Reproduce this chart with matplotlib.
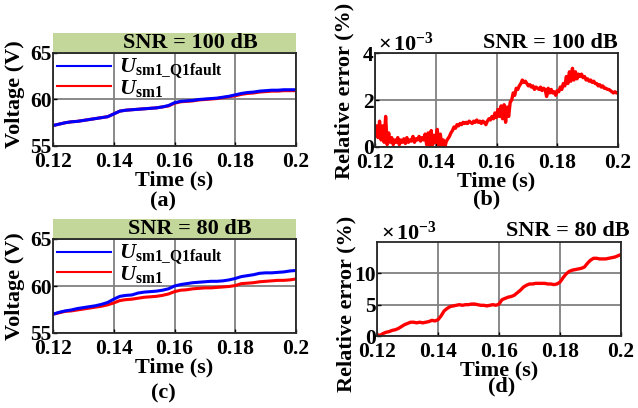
import numpy as np
import matplotlib
matplotlib.use("Agg")
import matplotlib.pyplot as plt
from matplotlib.patches import Rectangle

plt.rcParams['font.family'] = 'Liberation Serif'
plt.rcParams['font.weight'] = 'bold'
plt.rcParams['mathtext.fontset'] = 'custom'
plt.rcParams['mathtext.rm'] = 'Liberation Serif:bold'
plt.rcParams['mathtext.it'] = 'Liberation Serif:italic:bold'
plt.rcParams['mathtext.bf'] = 'Liberation Serif:bold'

# time grid for voltage curves (step 0.002 s)
t_volt = [0.120, 0.122, 0.124, 0.126, 0.128, 0.130, 0.132, 0.134, 0.136, 0.138,
          0.140, 0.142, 0.144, 0.146, 0.148, 0.150, 0.152, 0.154, 0.156, 0.158,
          0.160, 0.162, 0.164, 0.166, 0.168, 0.170, 0.172, 0.174, 0.176, 0.178,
          0.180, 0.182, 0.184, 0.186, 0.188, 0.190, 0.192, 0.194, 0.196, 0.198, 0.200]

# SNR = 100 dB
u_fault_100 = [57.2, 57.35, 57.5, 57.6, 57.65, 57.75, 57.85, 57.95, 58.05, 58.15,
               58.45, 58.75, 58.85, 58.9, 58.95, 59.0, 59.05, 59.1, 59.2, 59.35,
               59.65, 59.8, 59.85, 59.9, 60.0, 60.05, 60.1, 60.15, 60.25, 60.35,
               60.5, 60.65, 60.75, 60.8, 60.9, 60.95, 61.0, 61.0, 61.05, 61.05, 61.05]
u_sm1_100 = [57.2, 57.35, 57.5, 57.6, 57.65, 57.75, 57.85, 57.95, 58.05, 58.15,
             58.45, 58.75, 58.85, 58.9, 58.95, 59.0, 59.05, 59.1, 59.2, 59.3,
             59.6, 59.75, 59.8, 59.85, 59.95, 60.0, 60.05, 60.1, 60.2, 60.3,
             60.4, 60.55, 60.65, 60.7, 60.8, 60.85, 60.9, 60.9, 60.95, 60.95, 60.95]

# SNR = 80 dB
u_fault_80 = [57.0, 57.2, 57.35, 57.45, 57.6, 57.7, 57.8, 57.9, 58.05, 58.25,
              58.6, 58.9, 59.0, 59.05, 59.25, 59.35, 59.4, 59.45, 59.55, 59.7,
              60.0, 60.15, 60.25, 60.35, 60.4, 60.45, 60.5, 60.5, 60.55, 60.65,
              60.8, 61.0, 61.1, 61.2, 61.35, 61.4, 61.4, 61.45, 61.5, 61.6, 61.65]
u_sm1_80 = [57.0, 57.15, 57.3, 57.35, 57.45, 57.55, 57.65, 57.75, 57.85, 58.0,
            58.2, 58.45, 58.55, 58.6, 58.7, 58.8, 58.85, 58.9, 59.0, 59.15,
            59.4, 59.55, 59.6, 59.7, 59.75, 59.8, 59.8, 59.85, 59.9, 59.95,
            60.05, 60.25, 60.3, 60.35, 60.45, 60.5, 60.55, 60.6, 60.6, 60.65, 60.75]

# relative error (x1e-3 %), SNR = 100 dB, step 0.0005 s from 0.12 to 0.2
err_100 = [0.5, 0.9, 0.4, 1.1, 0.3, 0.9, 0.2, 1.3, 0.1, 0.6,
           0.2, 0.4, 0.1, 0.3, 0.2, 0.4, 0.1, 0.3, 0.2, 0.35,
           0.15, 0.4, 0.2, 0.3, 0.25, 0.45, 0.2, 0.35, 0.3, 0.45,
           0.25, 0.4, 0.3, 0.55, 0.1, 0.6, 0.05, 0.7, 0.1, 0.5,
           0.2, 0.75, 0.0, 0.55, 0.05, 0.3, 0.0, 0.25, 0.35, 0.45,
           0.6, 0.7, 0.85, 0.8, 0.95, 0.9, 1.0, 0.95, 1.05, 1.0,
           1.05, 1.0, 1.1, 1.05, 1.0, 1.1, 1.05, 1.15, 1.05, 1.1,
           1.0, 1.1, 1.05, 0.95, 1.1, 1.2, 1.15, 1.3, 1.2, 1.45,
           1.25, 1.6, 1.3, 1.75, 1.2, 1.8, 1.05, 1.7, 1.3, 1.9,
           2.0, 2.3, 2.2, 2.5, 2.45, 2.6, 2.7, 2.85, 2.75, 2.8,
           2.7, 2.6, 2.65, 2.55, 2.6, 2.45, 2.55, 2.5, 2.45, 2.55,
           2.4, 2.5, 2.45, 2.15, 2.5, 2.3, 2.45, 2.3, 2.35, 2.2,
           2.4, 2.35, 2.55, 2.45, 2.7, 2.6, 3.0, 2.7, 3.2, 2.8,
           3.35, 2.85, 3.2, 2.9, 3.1, 3.0, 3.1, 2.95, 3.0, 2.85,
           2.9, 2.8, 2.85, 2.75, 2.8, 2.7, 2.7, 2.6, 2.65, 2.55,
           2.6, 2.5, 2.5, 2.45, 2.45, 2.4, 2.35, 2.3, 2.35, 2.3, 2.3]

# relative error (x1e-3 %), SNR = 80 dB, step 0.001 s from 0.12 to 0.2
err_80 = [0.2, 0.1, 0.4, 0.6, 0.7, 0.9, 1.0, 1.2, 1.5, 1.8,
          2.0, 2.2, 2.2, 2.1, 2.2, 2.1, 2.2, 2.3, 2.5, 2.4,
          2.6, 3.2, 4.0, 4.4, 4.7, 4.8, 4.9, 5.0, 4.9, 5.0,
          5.0, 5.1, 5.1, 5.0, 4.9, 4.9, 4.8, 4.9, 5.0, 4.9,
          5.1, 5.8, 6.0, 6.2, 6.3, 6.5, 6.9, 7.3, 7.8, 8.1,
          8.3, 8.3, 8.4, 8.4, 8.4, 8.4, 8.3, 8.3, 8.2, 8.3,
          8.6, 9.3, 9.9, 10.3, 10.5, 10.6, 10.7, 10.8, 11.0, 11.6,
          12.1, 12.4, 12.4, 12.3, 12.3, 12.3, 12.4, 12.5, 12.6, 12.8, 13.0]

x_ticks = [0.12, 0.14, 0.16, 0.18, 0.2]
x_ticklabels = ['0.12', '0.14', '0.16', '0.18', '0.2']

W, H = 638, 408
FS = 16
TS = 15.5
fig = plt.figure(figsize=(W / 100, H / 100), dpi=100)


def px_axes(left, top, right, bottom):
    return fig.add_axes([left / W, 1 - bottom / H, (right - left) / W, (bottom - top) / H])


def style(ax, yticks, ylim):
    ax.set_xlim(0.12, 0.2)
    ax.set_ylim(*ylim)
    ax.set_xticks(x_ticks)
    ax.set_xticklabels(x_ticklabels)
    ax.set_yticks(yticks)
    ax.grid(True, color='#808080', linewidth=1.3)
    ax.tick_params(direction='in', length=3, width=1, labelsize=TS)
    ax.tick_params(axis='x', pad=4)
    ax.tick_params(axis='y', pad=1)
    for s in ax.spines.values():
        s.set_linewidth(1.3)
        s.set_color('#262626')
    for lab in ax.get_xticklabels() + ax.get_yticklabels():
        lab.set_fontweight('bold')
    ax.set_xlabel('Time (s)', fontsize=FS, fontweight='bold', labelpad=-1)


def green_title(ax, text, h_px, ax_h_px):
    frac = h_px / ax_h_px
    ax.add_patch(Rectangle((0, 1), 1, frac, transform=ax.transAxes,
                           facecolor='#C4D79B', edgecolor='none', clip_on=False))
    ax.text(0.565, 1 + frac / 2, text, transform=ax.transAxes, ha='center', va='center',
            fontsize=FS, fontweight='bold')


def add_legend(ax):
    h, l = ax.get_legend_handles_labels()
    leg = ax.legend(h[::-1], l[::-1], loc='upper left', frameon=False, fontsize=FS,
                    borderpad=0.05, borderaxespad=0.15, handlelength=2.4,
                    handletextpad=0.35, labelspacing=-0.15)
    for ln in leg.get_lines():
        ln.set_linewidth(1.5)


label_fault = r'$U_{\mathrm{sm1\_Q1fault}}$'
label_sm1 = r'$U_{\mathrm{sm1}}$'

# (a)
ax_a = px_axes(53, 53, 296, 146)
ax_a.plot(t_volt, u_sm1_100, color='red', linewidth=2.2, label=label_sm1)
ax_a.plot(t_volt, u_fault_100, color='blue', linewidth=2.2, label=label_fault)
style(ax_a, [55, 60, 65], (55, 65))
ax_a.set_ylabel('Voltage (V)', fontsize=FS, fontweight='bold', va='center')
ax_a.yaxis.set_label_coords(-38 / 243, 0.56)
green_title(ax_a, 'SNR = 100 dB', 20, 93)
add_legend(ax_a)
fig.text(163 / W, 1 - 201 / H, '(a)', ha='center', va='center', fontsize=FS, fontweight='bold')

# (b)
ax_b = px_axes(375, 53, 618, 147)
t_b = np.linspace(0.12, 0.2, len(err_100))
ax_b.plot(t_b, err_100, color='red', linewidth=2.4)
style(ax_b, [0, 2, 4], (0, 4))
ax_b.set_ylabel('Relative error (%)', fontsize=FS, fontweight='bold', va='center')
ax_b.yaxis.set_label_coords(-31 / 243, 0.6)
fig.text(618 / W, 1 - 43 / H, 'SNR = 100 dB', ha='right', va='center', fontsize=FS, fontweight='bold')
fig.text(378 / W, 1 - 44 / H, r'$\times\,10^{-3}$', ha='left', va='center', fontsize=FS)
fig.text(487 / W, 1 - 199 / H, '(b)', ha='center', va='center', fontsize=FS, fontweight='bold')

# (c)
ax_c = px_axes(53, 239, 296, 333)
ax_c.plot(t_volt, u_sm1_80, color='red', linewidth=2.2, label=label_sm1)
ax_c.plot(t_volt, u_fault_80, color='blue', linewidth=2.2, label=label_fault)
style(ax_c, [55, 60, 65], (55, 65))
ax_c.set_ylabel('Voltage (V)', fontsize=FS, fontweight='bold', va='center')
ax_c.yaxis.set_label_coords(-38 / 243, 0.5)
green_title(ax_c, 'SNR = 80 dB', 20, 94)
add_legend(ax_c)
fig.text(163 / W, 1 - 393 / H, '(c)', ha='center', va='center', fontsize=FS, fontweight='bold')

# (d)
ax_d = px_axes(377, 242, 621, 336)
t_d = np.linspace(0.12, 0.2, len(err_80))
ax_d.plot(t_d, err_80, color='red', linewidth=2.4)
style(ax_d, [0, 5, 10], (0, 15))
ax_d.set_ylabel('Relative error (%)', fontsize=FS, fontweight='bold', va='center')
ax_d.yaxis.set_label_coords(-31 / 244, 0.34)
fig.text(630 / W, 1 - 231 / H, 'SNR = 80 dB', ha='right', va='center', fontsize=FS, fontweight='bold')
fig.text(381 / W, 1 - 233 / H, r'$\times\,10^{-3}$', ha='left', va='center', fontsize=FS)
fig.text(502 / W, 1 - 386 / H, '(d)', ha='center', va='center', fontsize=FS, fontweight='bold')

fig.savefig('out.png', dpi=100)
